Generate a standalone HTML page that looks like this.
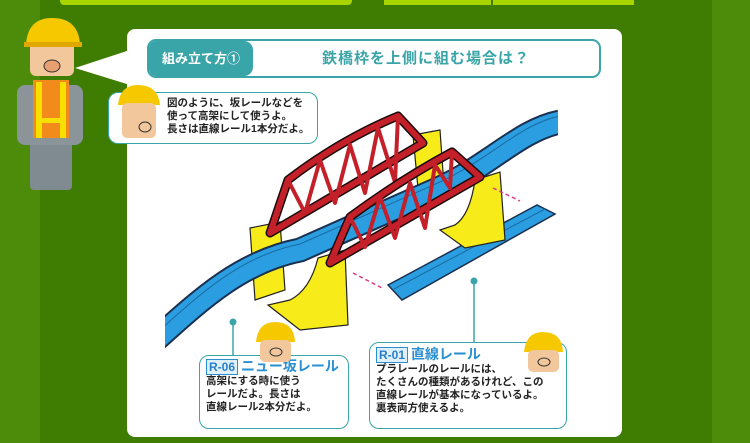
<!DOCTYPE html><html><head><meta charset="utf-8"><style>
body{margin:0;width:750px;height:443px;overflow:hidden;background:#3f7d02;font-family:"Liberation Sans","Noto Sans CJK JP",sans-serif;position:relative}
.abs{position:absolute}
.card{left:127px;top:29px;width:495px;height:408px;background:#fff;border-radius:8px}
.hdr{left:147px;top:39px;width:450px;height:35px;border:2px solid #3aa5a8;border-radius:9px;background:#fff;overflow:hidden}
.hdr .l{position:absolute;left:0;top:0;width:104px;height:35px;background:#3aa5a8;border-radius:0 9px 9px 0;color:#fff;font-weight:bold;font-size:13px;line-height:35px;text-align:center}
.hdr .t{position:absolute;left:104px;right:0;top:0;line-height:35px;text-align:center;color:#3aa5a8;font-weight:bold;font-size:15px;letter-spacing:1px}
.box{border:1.5px solid #3aa5a8;border-radius:10px;background:#fff;font-size:10.5px;font-weight:bold;line-height:13px;color:#222}
.tag{display:inline-block;border:1px solid #2a8fd0;color:#2a7fc8;background:#dff0fb;font-weight:bold;font-size:12px;padding:0 2px;line-height:14px}
.ttl{color:#2a8fd0;font-size:14px;font-weight:bold}
</style></head><body>
<div class="abs" style="left:60px;top:0;width:292px;height:5px;background:#a8d400;border-radius:0 0 4px 4px"></div>
<div class="abs" style="left:384px;top:0;width:107px;height:5px;background:#a8d400"></div>
<div class="abs" style="left:493px;top:0;width:141px;height:5px;background:#a8d400"></div>
<div class="abs" style="left:0;top:0;width:40px;height:443px;background:#5c9a12;opacity:.5"></div>
<div class="abs" style="left:712px;top:0;width:38px;height:443px;background:#5c9a12;opacity:.5"></div>
<div class="abs card"></div>
<svg class="abs" style="left:0;top:0" width="750" height="443">
<defs><clipPath id="c"><rect x="165" y="100" width="393" height="250"/></clipPath></defs>
<polygon points="75,68 130,50 130,85" fill="#fff"/>
<rect x="30" y="140" width="42" height="50" rx="4" fill="#7f8b90"/>
<rect x="17" y="85" width="66" height="60" rx="8" fill="#8a9499"/>
<rect x="33" y="80" width="36" height="58" fill="#f28a1c"/>
<rect x="36" y="82" width="6" height="56" fill="#f7e000"/><rect x="60" y="82" width="6" height="56" fill="#f7e000"/>
<rect x="36" y="118" width="30" height="5" fill="#f7e000"/>
<rect x="30" y="38" width="44" height="38" rx="6" fill="#f3c79c"/>
<path d="M26,44 Q28,18 52,18 Q78,18 80,44 Z" fill="#f6c800"/>
<rect x="24" y="42" width="58" height="5" fill="#e0a800"/>
<ellipse cx="52" cy="66" rx="8" ry="6" fill="#e8a070" stroke="#333"/>
<g clip-path="url(#c)">
<g fill="#f7ec1a" stroke="#222" stroke-width="1.2">
<polygon points="413,135 440,130 445,200 420,210"/>
<polygon points="250,228 280,222 285,290 255,300"/>
</g>
<g fill="none" stroke="#1a0a0a" stroke-width="9" stroke-linejoin="round"><path d="M270,233 L288,180 Q340,140 398,116 L423,143 Z"/></g>
<g fill="none" stroke="#c4202a" stroke-width="6" stroke-linejoin="round"><path d="M270,233 L288,180 Q340,140 398,116 L423,143 Z"/>
<path d="M288,180 L305,213 L320,160 L335,203 L350,145 L365,193 L378,128 L395,182 L398,116" stroke-width="4"/></g>
<path d="M150,345 C200,300 240,262 300,250 L440,188 C490,165 520,130 560,122" fill="none" stroke="#1a3050" stroke-width="25"/>
<path d="M150,345 C200,300 240,262 300,250 L440,188 C490,165 520,130 560,122" fill="none" stroke="#2a9ee0" stroke-width="21"/>
<path d="M150,339 C200,294 240,256 300,244 L440,182 C490,159 520,124 560,116" fill="none" stroke="#1a6aa0" stroke-width="1"/>
<polygon points="388,285 537,205 555,214 402,300" fill="#2a9ee0" stroke="#1a3050" stroke-width="1.5"/>
<line x1="394" y1="289" x2="545" y2="209" stroke="#1a6aa0"/>
<g fill="#f7ec1a" stroke="#222" stroke-width="1.2">
<path d="M318,258 L345,250 L348,325 L300,330 L268,305 L290,300 Q310,290 318,258Z"/>
<path d="M475,180 L500,172 L505,240 L465,248 L440,230 L455,225 Q470,215 475,180Z"/>
</g>
<g fill="none" stroke="#1a0a0a" stroke-width="9" stroke-linejoin="round"><path d="M330,263 L350,217 Q400,180 452,152 L480,177 Z"/></g>
<g fill="none" stroke="#c4202a" stroke-width="6" stroke-linejoin="round"><path d="M330,263 L350,217 Q400,180 452,152 L480,177 Z"/>
<path d="M350,217 L365,247 L380,197 L395,238 L410,183 L425,228 L435,165 L450,188 L452,152" stroke-width="4"/></g>
</g>
<line x1="233" y1="322" x2="233" y2="360" stroke="#3aa5a8" stroke-width="1.5"/><circle cx="233" cy="322" r="3.5" fill="#3aa5a8"/>
<line x1="474" y1="281" x2="474" y2="342" stroke="#3aa5a8" stroke-width="1.5"/><circle cx="474" cy="281" r="3.5" fill="#3aa5a8"/>
<line x1="353" y1="273" x2="382" y2="288" stroke="#e03a8a" stroke-width="1.5" stroke-dasharray="4,3"/>
<line x1="493" y1="188" x2="520" y2="201" stroke="#e03a8a" stroke-width="1.5" stroke-dasharray="4,3"/>
</svg>
<div class="abs hdr"><div class="l">組み立て方①</div><div class="t">鉄橋枠を上側に組む場合は？</div></div>
<div class="abs box" style="left:108px;top:92px;width:210px;height:52px;padding:4px 0 0 58px;box-sizing:border-box">図のように、坂レールなどを<br>使って高架にして使うよ。<br>長さは直線レール1本分だよ。</div>
<div class="abs box" style="left:199px;top:355px;width:150px;height:74px;padding:3px 0 0 6px;box-sizing:border-box"><span class="tag">R-06</span> <span class="ttl">ニュー坂レール</span><br>高架にする時に使う<br>レールだよ。長さは<br>直線レール2本分だよ。</div>
<div class="abs box" style="left:369px;top:342px;width:198px;height:87px;padding:4px 0 0 6px;box-sizing:border-box"><span class="tag">R-01</span> <span class="ttl">直線レール</span><br>プラレールのレールには、<br>たくさんの種類があるけれど、この<br>直線レールが基本になっているよ。<br>裏表両方使えるよ。</div>
<svg class="abs" style="left:0;top:0" width="750" height="443">
<g><path d="M118,105 Q120,85 138,85 Q158,85 160,105Z" fill="#f6c800"/><rect x="122" y="103" width="34" height="35" rx="5" fill="#f3c79c"/><ellipse cx="145" cy="127" rx="6" ry="5" fill="none" stroke="#333"/></g>
<g><path d="M256,342 Q258,322 275,322 Q294,322 295,342Z" fill="#f6c800"/><rect x="260" y="340" width="31" height="22" rx="5" fill="#f3c79c"/><ellipse cx="276" cy="352" rx="6" ry="4" fill="none" stroke="#333"/></g>
<g><path d="M524,352 Q526,332 543,332 Q562,332 563,352Z" fill="#f6c800"/><rect x="528" y="350" width="31" height="22" rx="5" fill="#f3c79c"/><ellipse cx="544" cy="362" rx="6" ry="4" fill="none" stroke="#333"/></g>
</svg>
</body></html>
